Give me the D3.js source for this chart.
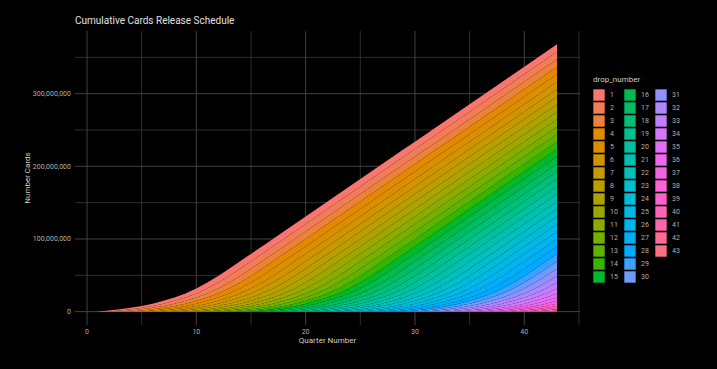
<!DOCTYPE html>
<html>
<head>
<meta charset="utf-8">
<script src="https://cdn.jsdelivr.net/npm/d3@7"></script>
<style>
  html, body { margin: 0; padding: 0; background: #000; }
  svg { display: block; }
  text { font-family: Roboto, "Noto Sans", sans-serif; }
</style>
</head>
<body>
<svg id="chart" width="717" height="369"></svg>
<script>
// ---------------- DATA ----------------
// drop numbers (one stacked band each)
const drops = d3.range(1, 44);
// quarters on the x axis
const quarters = d3.range(1, 44);
// cumulative cards released by a drop, by quarters since its release (millions)
const releaseByAge = [0.3, 1.3, 1.6, 2.0, 2.6, 3.2, 4.0, 4.5, 5.5, 7.0, 8.0, 9.0, 10.0, 10.2,
  10.3, 10.3, 10.3, 10.3, 10.3, 10.3, 10.3, 10.3, 10.3, 10.3, 10.3, 10.3, 10.3, 10.3, 10.3,
  10.3, 10.3, 10.3, 10.3, 10.3, 10.3, 10.3, 10.3, 10.3, 10.3, 10.3, 10.3, 10.3, 10.3];
const xTicks = [0, 10, 20, 30, 40];
const xMinor = [5, 15, 25, 35, 45];
const yTicks = [0, 100e6, 200e6, 300e6];
const yMinor = [50e6, 150e6, 250e6, 350e6];

// table: one row per quarter, one column per drop
const table = quarters.map(q => {
  const row = { quarter: q };
  drops.forEach(d => { row[d] = q >= d ? releaseByAge[q - d] * 1e6 : 0; });
  return row;
});

// ggplot2 hue palette (polar LUV)
function hclR(h, c, l) {
  const hr = h * Math.PI / 180;
  const U = c * Math.cos(hr), V = c * Math.sin(hr);
  const un = 0.1978398, vn = 0.4683363;
  const Y = l > 8 ? 100 * Math.pow((l + 16) / 116, 3) : 100 * l / 903.3;
  const up = U / (13 * l) + un, vp = V / (13 * l) + vn;
  const X = 9.0 * Y * up / (4 * vp);
  const Z = -X / 3 - 5 * Y + 3 * Y / vp;
  const x = X / 100, y = Y / 100, z = Z / 100;
  const lin = [
    3.240479 * x - 1.537150 * y - 0.498535 * z,
    -0.969256 * x + 1.875992 * y + 0.041556 * z,
    0.055648 * x - 0.204043 * y + 1.057311 * z
  ];
  const g = lin.map(v => {
    v = v > 0.0031308 ? 1.055 * Math.pow(v, 1 / 2.4) - 0.055 : 12.92 * v;
    return Math.round(255 * Math.max(0, Math.min(1, v)));
  });
  return `rgb(${g[0]},${g[1]},${g[2]})`;
}
const n = drops.length;
const colors = drops.map((d, i) => hclR(15 + 360 * i / n, 100, 65));
const color = d3.scaleOrdinal().domain(drops).range(colors);

// ---------------- LAYOUT ----------------
const svg = d3.select("#chart");
const panel = { left: 75, right: 580, top: 31, bottom: 325 };

// stack: drop 1 on top
const stack = d3.stack().keys(drops.slice().reverse());
const series = stack(table);
const yMax = d3.max(series, s => d3.max(s, p => p[1]));
const xExt = d3.extent(quarters);
const xPad = (xExt[1] - xExt[0]) * 0.05;
const x = d3.scaleLinear().domain([xExt[0] - xPad, xExt[1] + xPad]).range([panel.left, panel.right]);
const y = d3.scaleLinear().domain([-yMax * 0.05, yMax * 1.05]).range([panel.bottom, panel.top]);

// grid
const grid = svg.append("g");
grid.selectAll(".xminor").data(xMinor).join("line")
  .attr("x1", d => x(d)).attr("x2", d => x(d)).attr("y1", panel.top).attr("y2", panel.bottom)
  .attr("stroke", "#3a3a3a").attr("stroke-width", 0.8);
grid.selectAll(".yminor").data(yMinor).join("line")
  .attr("y1", d => y(d)).attr("y2", d => y(d)).attr("x1", panel.left).attr("x2", panel.right)
  .attr("stroke", "#3a3a3a").attr("stroke-width", 0.8);
grid.selectAll(".xmajor").data(xTicks).join("line")
  .attr("x1", d => x(d)).attr("x2", d => x(d)).attr("y1", panel.top).attr("y2", panel.bottom)
  .attr("stroke", "#4a4a4a").attr("stroke-width", 0.9);
grid.selectAll(".ymajor").data(yTicks).join("line")
  .attr("y1", d => y(d)).attr("y2", d => y(d)).attr("x1", panel.left).attr("x2", panel.right)
  .attr("stroke", "#4a4a4a").attr("stroke-width", 0.9);

// areas
const area = d3.area()
  .x(d => x(d.data.quarter))
  .y0(d => y(d[0]))
  .y1(d => y(d[1]));
svg.append("g").selectAll("path").data(series).join("path")
  .attr("d", area)
  .attr("fill", s => color(s.key));

// axes (labels only, like the theme)
const fmt = d3.format(",");
svg.append("g").selectAll("text").data(xTicks).join("text")
  .attr("x", d => x(d)).attr("y", 334)
  .attr("text-anchor", "middle").attr("font-size", 7).attr("fill", "#b0b0b0")
  .text(d => d);
svg.append("g").selectAll("text").data(yTicks).join("text")
  .attr("x", 71).attr("y", d => y(d)).attr("dy", "0.35em")
  .attr("text-anchor", "end").attr("font-size", 7).attr("fill", "#b0b0b0")
  .text(d => fmt(d));

// titles
svg.append("text").attr("x", 75).attr("y", 24)
  .attr("font-size", 10).attr("fill", "#e0e0e0")
  .text("Cumulative Cards Release Schedule");
svg.append("text").attr("x", (panel.left + panel.right) / 2).attr("y", 343)
  .attr("text-anchor", "middle").attr("font-size", 8).attr("fill", "#cfcfcf")
  .text("Quarter Number");
svg.append("text").attr("transform", `translate(30,${(panel.top + panel.bottom) / 2}) rotate(-90)`)
  .attr("text-anchor", "middle").attr("font-size", 8).attr("fill", "#cfcfcf")
  .text("Number Cards");

// legend
const leg = svg.append("g");
leg.append("text").attr("x", 593).attr("y", 82)
  .attr("font-size", 8).attr("fill", "#cfcfcf").text("drop_number");
const perCol = 15;
const items = leg.selectAll("g.item").data(drops).join("g")
  .attr("transform", (d, i) => `translate(${593 + Math.floor(i / perCol) * 31},${89 + (i % perCol) * 13})`);
items.append("rect").attr("width", 12).attr("height", 12)
  .attr("fill", d => color(d)).attr("stroke", "#000").attr("stroke-width", 0.6);
items.append("text").attr("x", 17).attr("y", 6).attr("dy", "0.35em")
  .attr("font-size", 7).attr("fill", "#b0b0b0").text(d => d);
</script>
</body>
</html>
